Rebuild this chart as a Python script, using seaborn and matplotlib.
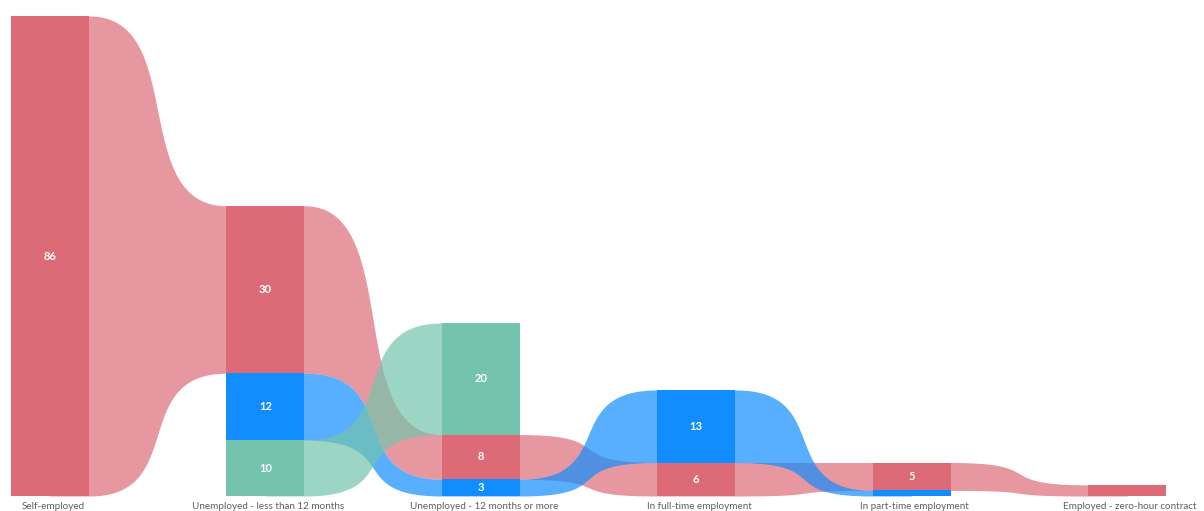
import numpy as np
import matplotlib
matplotlib.use("Agg")
import matplotlib.pyplot as plt
import seaborn as sns

# ---- data ----
categories = ["Self-employed", "Unemployed - less than 12 months",
              "Unemployed - 12 months or more", "In full-time employment",
              "In part-time employment", "Employed - zero-hour contract"]
series_names = ["Red", "Blue", "Green"]  # drawing order of ribbons
red_values = [86, 30, 8, 6, 5, 2]
green_values = [0, 10, 20, 0, 0, 0]
blue_values = [0, 12, 3, 13, 1, 0]

series_values = {"Red": red_values, "Green": green_values, "Blue": blue_values}
series_colors = {"Red": "#DD6B77", "Green": "#74C4AD", "Blue": "#118DFF"}

sns.set_theme(style="white")
plt.rcParams['font.family'] = ['Lato', 'DejaVu Sans']

fig = plt.figure(figsize=(12.04, 5.11), dpi=100)
ax = fig.add_axes([0, 0, 1, 1])

n = len(categories)
spacing_px = 215.4
scale = 480 / 86.0
ax.set_xlim((0 - 50) / spacing_px, (1204 - 50) / spacing_px)
ax.set_ylim(-15 / scale, (511 - 15) / scale)
bar_w = 78 / spacing_px

# stacking: within each column, largest on top
stacks = []
for i in range(n):
    vals = [(s, series_values[s][i]) for s in series_names if series_values[s][i] > 0]
    vals.sort(key=lambda p: p[1])
    b = 0.0
    d = {}
    for s, v in vals:
        d[s] = (b, b + v)
        b += v
    stacks.append(d)

# ribbons
k = 0.72
t = np.linspace(0, 1, 300)
for s in series_names:
    for i in range(n - 1):
        if s in stacks[i] and s in stacks[i + 1]:
            x0 = i + bar_w / 2
            x1 = i + 1 - bar_w / 2
            dx = x1 - x0
            xt = ((1 - t) ** 3 * x0 + 3 * (1 - t) ** 2 * t * (x0 + k * dx)
                  + 3 * (1 - t) * t ** 2 * (x1 - k * dx) + t ** 3 * x1)
            ease = 3 * t ** 2 - 2 * t ** 3
            b0, t0 = stacks[i][s]
            b1, t1 = stacks[i + 1][s]
            ybot = b0 + (b1 - b0) * ease
            ytop = t0 + (t1 - t0) * ease
            # extend slightly under the bars to avoid seams
            xt = np.concatenate([[i], xt, [i + 1]])
            ybot = np.concatenate([[b0], ybot, [b1]])
            ytop = np.concatenate([[t0], ytop, [t1]])
            ax.fill_between(xt, ybot, ytop, color=series_colors[s], alpha=0.7,
                            linewidth=0)

# bars
for i in range(n):
    for s, (b, tp) in stacks[i].items():
        ax.bar(i, tp - b, bottom=b, width=bar_w, color=series_colors[s],
               linewidth=0)
        v = series_values[s][i]
        if v >= 3:
            ax.text(i, (b + tp) / 2, f"{v}", ha="center", va="center",
                    color="white", fontsize=8, fontweight="bold")

# category labels
for i, c in enumerate(categories):
    ax.text(i + 3 / spacing_px, -10 / scale, c, ha="center", va="center",
            color="#605E5C", fontsize=7.1)

ax.axis("off")
fig.savefig("out.png", dpi=100)
